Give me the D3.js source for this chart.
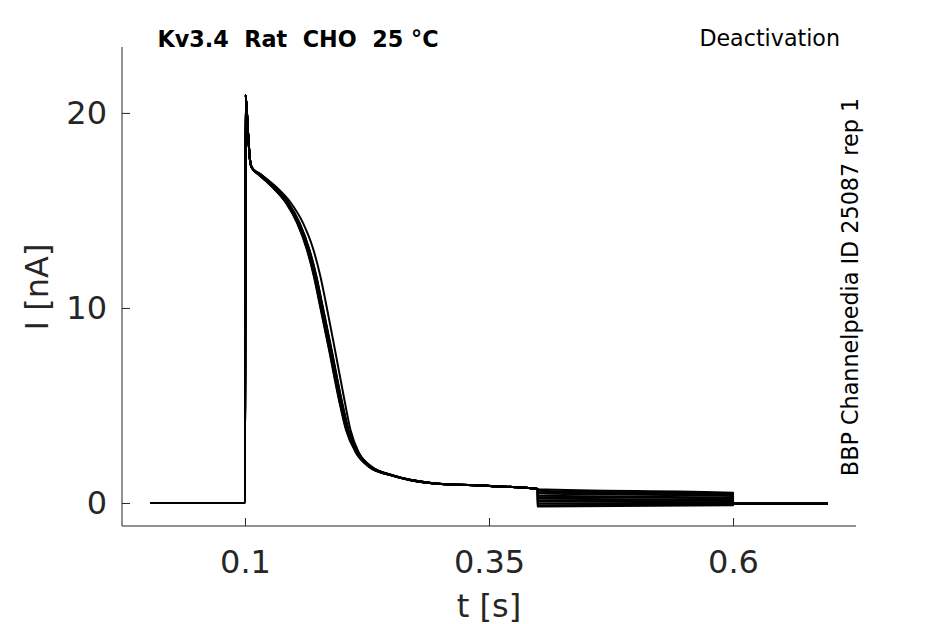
<!DOCTYPE html>
<html>
<head>
<meta charset="utf-8">
<script src="https://cdn.jsdelivr.net/npm/d3@7/dist/d3.min.js"></script>
<style>
  body { margin: 0; background: #fff; }
  svg { display: block; font-family: "DejaVu Sans", sans-serif; }
  .axis path, .axis line { stroke: #262626; stroke-width: 1; }
  .axis text { fill: #262626; font-size: 32px; font-family: "DejaVu Sans", sans-serif; }
</style>
</head>
<body>
<svg width="945" height="624"></svg>
<script>
// activation phase, shared by the bundle of sweeps (s, nA)
var actTime    = [0.0027, 0.1000, 0.1006, 0.1031, 0.1051, 0.1069, 0.1154, 0.1287, 0.1430, 0.1543, 0.1645, 0.1717, 0.1768, 0.1871, 0.1973, 0.2045, 0.2148, 0.2281, 0.2486, 0.2691, 0.2895, 0.3510, 0.4000];
var actCurrent = [0,      0,      20.92,  19.0,   17.6,   17.2,   16.82,  16.21,  15.38,  14.36,  12.97,  11.59,  10.36,  7.85,   5.28,   3.74,   2.56,   1.85,   1.44,   1.18,   1.03,   0.87,   0.72];
// one sweep that decays a little later than the rest
var slowTime   = [0.0027, 0.1000, 0.1006, 0.1031, 0.1051, 0.1069, 0.1169, 0.1318, 0.1471, 0.1594, 0.1702, 0.1774, 0.1825, 0.1922, 0.2019, 0.2081, 0.2168, 0.2286, 0.2486, 0.2691, 0.2895, 0.3510, 0.4000];

// small per-sweep time offsets of the bundle (s)
var sweepShift = [-0.0010, -0.0006, -0.0003, 0, 0.0002, 0.0004, 0.0006, 0.0008, 0.0011, 0.0014, 0.0017];
// tail current during the 0.4-0.6 s step, per sweep (nA); last one is the slow sweep
var tailStart  = [0.70, 0.63, 0.55, 0.48, 0.37, 0.31, 0.22, 0.13, 0.07, -0.03, -0.11, -0.18];
var tailEnd    = [0.52, 0.46, 0.42, 0.36, 0.28, 0.24, 0.16, 0.10, 0.04, -0.02, -0.06, -0.11];
var stepOn = 0.4, stepOff = 0.6, traceEnd = 0.697, holdCurrent = -0.04;

var xTicks = [0.1, 0.35, 0.6];
var yTicks = [0, 10, 20];

var svg = d3.select("svg");

var x = d3.scaleLinear().domain([-0.026, 0.726]).range([122, 856]);
var y = d3.scaleLinear().domain([-1.18, 23.38]).range([526, 47]);

// build each sweep as a list of points
var sweeps = [];
tailStart.forEach(function(ts, i) {
  var times = i < sweepShift.length ? actTime : slowTime;
  var shift = i < sweepShift.length ? sweepShift[i] : 0;
  var pts = times.map(function(t, j) {
    var tt = (t > 0.107 && t < 0.4) ? t + shift : t;
    return [tt, actCurrent[j]];
  });
  pts.push([stepOn, ts]);
  pts.push([stepOff, tailEnd[i]]);
  pts.push([stepOff, holdCurrent]);
  pts.push([traceEnd, holdCurrent]);
  sweeps.push(pts);
});

var line = d3.line()
  .x(function(d) { return x(d[0]); })
  .y(function(d) { return y(d[1]); })
  .curve(d3.curveMonotoneX);

svg.append("g")
  .selectAll("path")
  .data(sweeps)
  .enter()
  .append("path")
  .attr("d", line)
  .attr("fill", "none")
  .attr("stroke", "#000")
  .attr("stroke-width", 2)
  .attr("stroke-linejoin", "round");

svg.append("g")
  .attr("class", "axis")
  .attr("transform", "translate(0,526)")
  .call(d3.axisBottom(x).tickValues(xTicks).tickFormat(d3.format("")).tickSizeInner(-8).tickSizeOuter(0).tickPadding(24))
  .call(function(g) { g.select(".domain").attr("d", "M122,0H856"); });

svg.append("g")
  .attr("class", "axis")
  .attr("transform", "translate(122,0)")
  .call(d3.axisLeft(y).tickValues(yTicks).tickSizeInner(-8).tickSizeOuter(0).tickPadding(15))
  .call(function(g) { g.select(".domain").attr("d", "M0,47V526"); });

svg.append("text")
  .attr("x", 489).attr("y", 617)
  .attr("text-anchor", "middle")
  .attr("fill", "#262626")
  .style("font-size", "32px")
  .text("t [s]");

svg.append("text")
  .attr("transform", "translate(48,287) rotate(-90)")
  .attr("text-anchor", "middle")
  .attr("fill", "#262626")
  .style("font-size", "32px")
  .text("I [nA]");

svg.append("text")
  .attr("x", 157.5).attr("y", 46.5)
  .attr("fill", "#000")
  .style("font-size", "22.3px")
  .style("font-weight", "bold")
  .style("white-space", "pre")
  .text("Kv3.4  Rat  CHO  25 \u00b0C");

svg.append("text")
  .attr("x", 840).attr("y", 46)
  .attr("text-anchor", "end")
  .attr("fill", "#000")
  .style("font-size", "22.2px")
  .text("Deactivation");

svg.append("text")
  .attr("transform", "translate(858,287) rotate(-90)")
  .attr("text-anchor", "middle")
  .attr("fill", "#000")
  .style("font-size", "22.3px")
  .text("BBP Channelpedia ID 25087 rep 1");
</script>
</body>
</html>
